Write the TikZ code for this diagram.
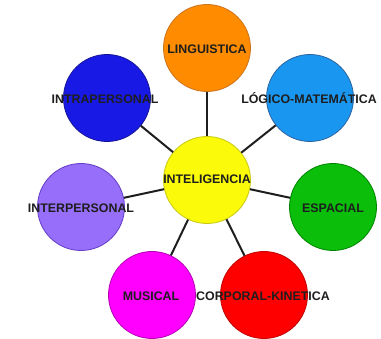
\documentclass[tikz,border=0pt]{standalone}
\usepackage{fontspec}
\setmainfont{Liberation Sans}
\definecolor{cOrF}{RGB}{255,140,0}\definecolor{cOrD}{RGB}{205,115,30}
\definecolor{cBlF}{RGB}{25,25,230}\definecolor{cBlD}{RGB}{20,20,150}
\definecolor{cLbF}{RGB}{25,150,240}\definecolor{cLbD}{RGB}{45,100,160}
\definecolor{cYeF}{RGB}{250,250,10}\definecolor{cYeD}{RGB}{200,200,20}
\definecolor{cPuF}{RGB}{150,110,250}\definecolor{cPuD}{RGB}{100,60,200}
\definecolor{cGrF}{RGB}{10,190,10}\definecolor{cGrD}{RGB}{0,130,0}
\definecolor{cMaF}{RGB}{255,0,255}\definecolor{cMaD}{RGB}{180,0,180}
\definecolor{cReF}{RGB}{255,0,0}\definecolor{cReD}{RGB}{190,0,0}
\definecolor{txt}{RGB}{30,30,30}
\definecolor{lnk}{RGB}{30,30,30}
\tikzset{
  circ/.style={circle,minimum size=87pt,inner sep=0pt,line width=0.8pt},
  lab/.style={font=\fontsize{12.4}{14}\selectfont\bfseries,text=txt,inner sep=0pt},
  link/.style={draw=lnk,line width=2pt}
}
\begin{document}
\begin{tikzpicture}[x=1pt,y=-1pt]
\useasboundingbox (0,0) rectangle (381,339);
\node[circ,fill=cOrF,draw=cOrD] (ling) at (207,48) {};
\node[circ,fill=cBlF,draw=cBlD] (intra) at (107,98) {};
\node[circ,fill=cLbF,draw=cLbD] (logi) at (310,98) {};
\node[circ,fill=cYeF,draw=cYeD] (cen) at (207,180) {};
\node[circ,fill=cPuF,draw=cPuD] (inter) at (81,207) {};
\node[circ,fill=cGrF,draw=cGrD] (esp) at (333,207) {};
\node[circ,fill=cMaF,draw=cMaD] (mus) at (152,295) {};
\node[circ,fill=cReF,draw=cReD] (corp) at (264,295) {};
\foreach \n in {ling,intra,logi,inter,esp,mus,corp}{\draw[link] (cen) -- (\n);}
\node[lab] (tling) at (207,49) {LINGUISTICA};
\node[lab] (tintra) at (105,99) {INTRAPERSONAL};
\node[lab] (tlogi) at (309,98) {LÓGICO-MATEMÁTICA};
\node[lab] (tcen) at (207,179) {INTELIGENCIA};
\node[lab] (tinter) at (81,208) {INTERPERSONAL};
\node[lab] (tesp) at (333,208) {ESPACIAL};
\node[lab] (tmus) at (151,296) {MUSICAL};
\node[lab] (tcorp) at (263,296) {CORPORAL-KINETICA};
\end{tikzpicture}
\end{document}
